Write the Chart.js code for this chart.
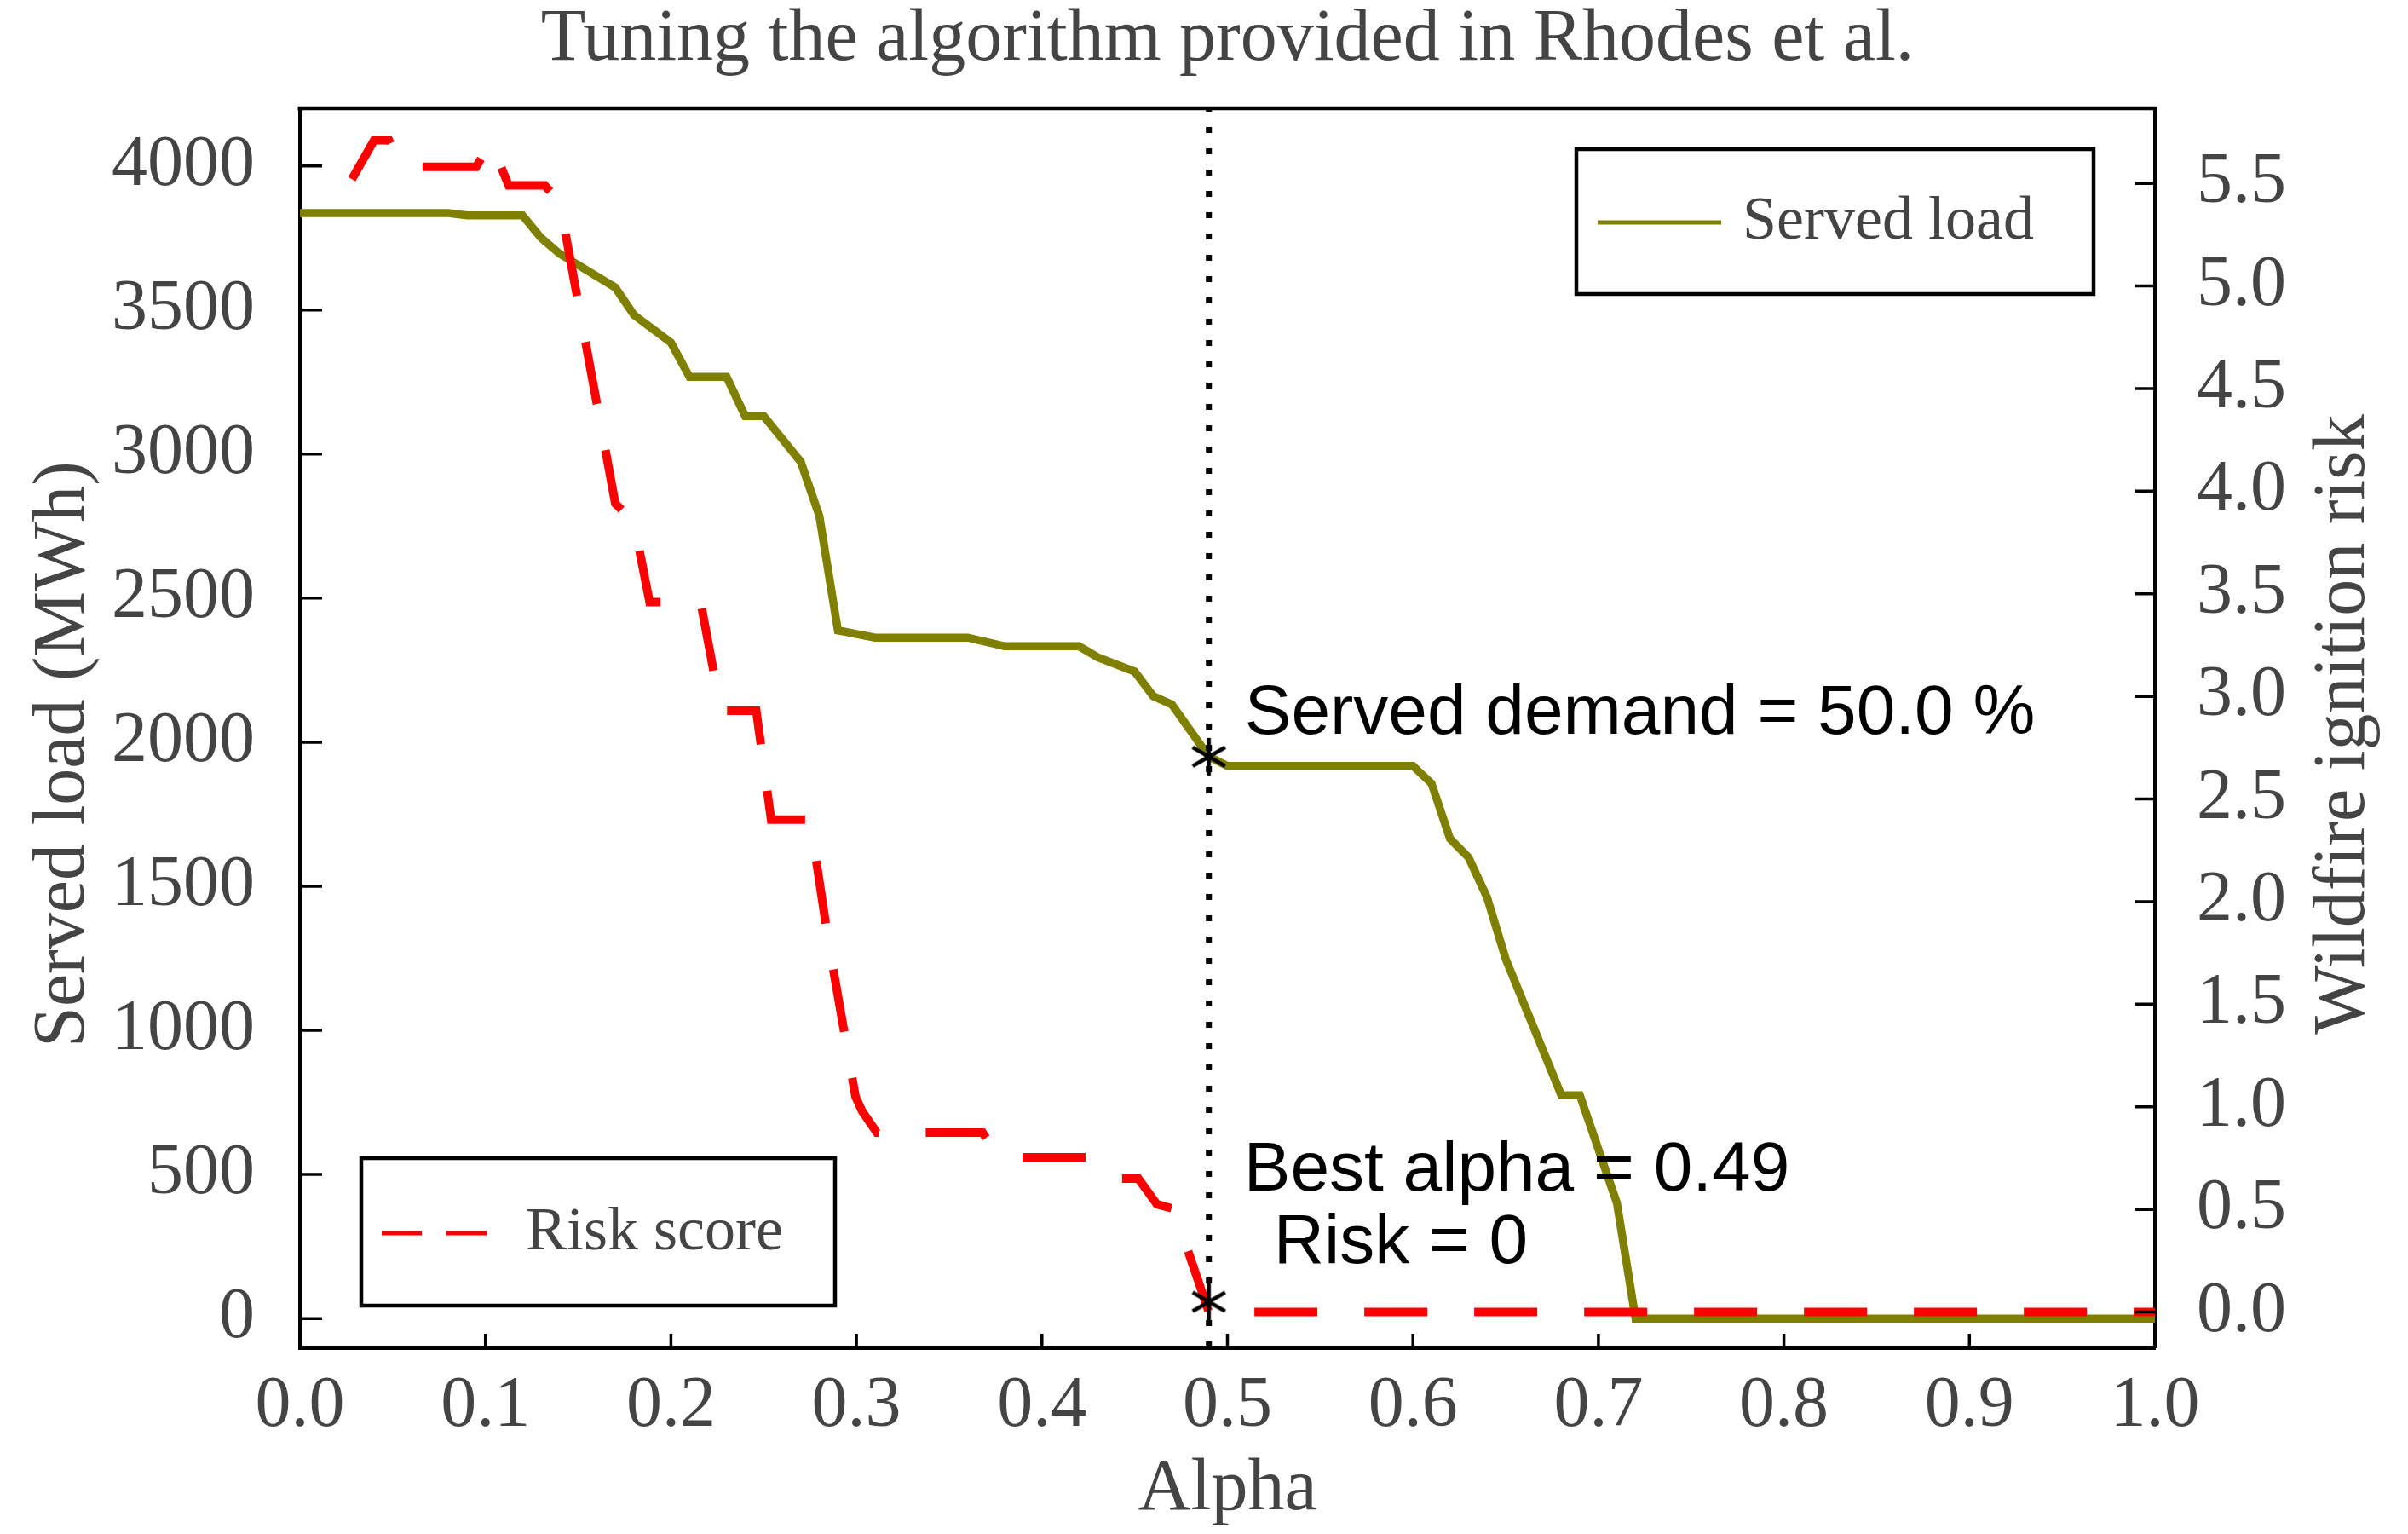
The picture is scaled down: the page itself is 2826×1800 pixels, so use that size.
<!DOCTYPE html>
<html>
<head>
<meta charset="utf-8">
<script src="https://cdn.jsdelivr.net/npm/chart.js@4.4.1/dist/chart.umd.min.js"></script>
<style>
  html, body { margin: 0; padding: 0; background: #fff; }
  #wrap { width: 2826px; height: 1800px; }
</style>
</head>
<body>
<div id="wrap"><canvas id="chart" width="2826" height="1800"></canvas></div>
<script>
// values
const alphaServed = [0, 0.08, 0.09, 0.12, 0.13, 0.14, 0.17, 0.18, 0.20, 0.21, 0.23, 0.24, 0.25, 0.27, 0.28, 0.29,
  0.31, 0.36, 0.38, 0.42, 0.43, 0.45, 0.46, 0.47, 0.49, 0.50, 0.60, 0.61, 0.62, 0.63, 0.64, 0.65, 0.68, 0.69,
  0.71, 0.72, 1.00];
const servedLoad = [3836, 3836, 3828, 3828, 3750, 3695, 3578, 3483, 3387, 3268, 3268, 3132, 3132, 2973, 2785, 2388,
  2363, 2363, 2333, 2333, 2295, 2245, 2160, 2131, 1950, 1918, 1918, 1857, 1665, 1600, 1461, 1248, 775, 775,
  400, 0, 0];

const alphaRisk = [0.028, 0.04, 0.048, 0.055, 0.095, 0.103, 0.1125, 0.132, 0.14, 0.17, 0.18, 0.1885, 0.216, 0.227,
  0.246, 0.254, 0.275, 0.285, 0.2995, 0.303, 0.311, 0.368, 0.377, 0.424, 0.433, 0.452, 0.462, 0.471, 0.49, 1.0];
const riskScore = [5.52, 5.71, 5.71, 5.58, 5.58, 5.70, 5.49, 5.49, 5.41, 3.94, 3.85, 3.46, 3.46, 2.93,
  2.93, 2.40, 2.40, 1.80, 1.05, 0.98, 0.874, 0.874, 0.754, 0.754, 0.65, 0.65, 0.525, 0.503, 0.0, 0.0];

const bestAlpha = 0.49;
const bestServed = 1950;
const bestRisk = 0.05;

const alphaTicks = [0, 0.1, 0.2, 0.3, 0.4, 0.5, 0.6, 0.7, 0.8, 0.9, 1.0];
const loadTicks = [0, 500, 1000, 1500, 2000, 2500, 3000, 3500, 4000];
const riskTicks = [0, 0.5, 1.0, 1.5, 2.0, 2.5, 3.0, 3.5, 4.0, 4.5, 5.0, 5.5];

const TEXT = '#444444';
const OLIVE = '#808000';
const RED = '#ff0000';
const SERIF = '"Liberation Serif", "Times New Roman", serif';
const SANS = '"Liberation Sans", Arial, sans-serif';

const toPoints = (xs, ys) => xs.map((x, i) => ({ x, y: ys[i] }));

// six spoke asterisk, like the marker in the original
function asterisk(size, lw) {
  const c = document.createElement('canvas');
  c.width = c.height = size;
  const g = c.getContext('2d');
  const r = size / 2 - 2;
  g.strokeStyle = '#000';
  g.lineWidth = lw;
  g.translate(size / 2, size / 2);
  for (const a of [90, 30, -30]) {
    const t = a * Math.PI / 180;
    g.beginPath();
    g.moveTo(-r * Math.cos(t), -r * Math.sin(t));
    g.lineTo(r * Math.cos(t), r * Math.sin(t));
    g.stroke();
  }
  return c;
}
const star = asterisk(48, 4.5);

// frame, inward ticks, titles, the two legends and the notes
const decor = {
  id: 'decor',
  afterDraw(chart) {
    const { ctx, chartArea: a, scales } = chart;
    ctx.save();
    ctx.strokeStyle = '#000';
    ctx.lineWidth = 4.5;
    ctx.beginPath();
    ctx.moveTo(a.left - 2.5, a.top);
    ctx.lineTo(a.right + 2.5, a.top);
    ctx.stroke();

    ctx.lineWidth = 3.5;
    ctx.beginPath();
    loadTicks.forEach(v => {
      const y = scales.y.getPixelForValue(v);
      ctx.moveTo(a.left, y); ctx.lineTo(a.left + 26, y);
    });
    riskTicks.forEach(v => {
      const y = scales.y1.getPixelForValue(v);
      ctx.moveTo(a.right - 23, y); ctx.lineTo(a.right, y);
    });
    alphaTicks.forEach(v => {
      const x = scales.x.getPixelForValue(v);
      ctx.moveTo(x, a.bottom); ctx.lineTo(x, a.bottom - 16);
    });
    ctx.stroke();

    // title and y titles
    ctx.fillStyle = TEXT;
    ctx.textAlign = 'center';
    ctx.textBaseline = 'alphabetic';
    ctx.font = '86px ' + SERIF;
    ctx.fillText('Tuning the algorithm provided in Rhodes et al.', (a.left + a.right) / 2, 70);

    ctx.save();
    ctx.translate(98, 885);
    ctx.rotate(-Math.PI / 2);
    ctx.fillText('Served load (MWh)', 0, 0);
    ctx.restore();

    ctx.save();
    ctx.translate(2774, 850);
    ctx.rotate(-Math.PI / 2);
    ctx.fillText('Wildfire ignition risk', 0, 0);
    ctx.restore();

    // legend: served load
    ctx.fillStyle = '#fff';
    ctx.fillRect(1850, 175, 607, 170);
    ctx.lineWidth = 4.5;
    ctx.strokeStyle = '#000';
    ctx.strokeRect(1850, 175, 607, 170);
    ctx.strokeStyle = OLIVE;
    ctx.lineWidth = 5;
    ctx.beginPath();
    ctx.moveTo(1875, 261); ctx.lineTo(2020, 261);
    ctx.stroke();
    ctx.fillStyle = TEXT;
    ctx.font = '72px ' + SERIF;
    ctx.textAlign = 'left';
    ctx.textBaseline = 'middle';
    ctx.fillText('Served load', 2045, 261);

    // legend: risk score
    ctx.fillStyle = '#fff';
    ctx.fillRect(424, 1359, 556, 173);
    ctx.lineWidth = 4.5;
    ctx.strokeStyle = '#000';
    ctx.strokeRect(424, 1359, 556, 173);
    ctx.strokeStyle = RED;
    ctx.lineWidth = 5;
    ctx.setLineDash([47, 29]);
    ctx.beginPath();
    ctx.moveTo(448, 1447); ctx.lineTo(572, 1447);
    ctx.stroke();
    ctx.setLineDash([]);
    ctx.fillStyle = TEXT;
    ctx.fillText('Risk score', 617, 1447);

    // notes next to the best alpha
    const nx = scales.x.getPixelForValue(bestAlpha);
    ctx.fillStyle = '#000';
    ctx.font = '82px ' + SANS;
    ctx.textBaseline = 'alphabetic';
    ctx.fillText('Served demand = 50.0 %', nx + 42, 861);
    ctx.fillText('Best alpha = 0.49', nx + 41, 1397);
    ctx.fillText('Risk = 0', nx + 76, 1482);
    ctx.restore();
  }
};

new Chart(document.getElementById('chart'), {
  type: 'line',
  data: {
    datasets: [
      {
        label: 'Best served',
        data: [{ x: bestAlpha, y: bestServed }],
        yAxisID: 'y',
        showLine: false,
        pointStyle: star,
        pointRadius: 22
      },
      {
        label: 'Best risk',
        data: [{ x: bestAlpha, y: bestRisk }],
        yAxisID: 'y1',
        showLine: false,
        pointStyle: star,
        pointRadius: 22
      },
      {
        label: 'Best alpha',
        data: [{ x: bestAlpha, y: -100 }, { x: bestAlpha, y: 4200 }],
        yAxisID: 'y',
        borderColor: '#000',
        borderWidth: 7,
        borderDash: [7, 18],
        pointRadius: 0
      },
      {
        label: 'Risk score',
        data: toPoints(alphaRisk, riskScore),
        yAxisID: 'y1',
        borderColor: RED,
        borderWidth: 10,
        borderDash: [74, 55],
        pointRadius: 0
      },
      {
        label: 'Served load',
        data: toPoints(alphaServed, servedLoad),
        yAxisID: 'y',
        borderColor: OLIVE,
        borderWidth: 9.5,
        pointRadius: 0
      }
    ]
  },
  options: {
    responsive: false,
    devicePixelRatio: 1,
    animation: false,
    layout: { padding: { top: 127, left: 0, right: 0, bottom: 0 } },
    plugins: { legend: { display: false }, tooltip: { enabled: false } },
    scales: {
      x: {
        type: 'linear',
        min: 0,
        max: 1,
        afterBuildTicks: s => { s.ticks = alphaTicks.map(value => ({ value })); },
        afterFit: s => { s.height = 219; },
        grid: { display: false },
        border: { display: true, color: '#000', width: 5 },
        ticks: {
          color: TEXT, font: { family: SERIF, size: 84 }, padding: 12,
          maxRotation: 0, autoSkip: false, callback: v => v.toFixed(1)
        },
        title: {
          display: true, text: 'Alpha', color: TEXT,
          font: { family: SERIF, size: 86 }, padding: { top: 0, bottom: 0 }
        }
      },
      y: {
        type: 'linear',
        position: 'left',
        min: -100,
        max: 4200,
        afterBuildTicks: s => { s.ticks = loadTicks.map(value => ({ value })); },
        afterFit: s => { s.width = 352; },
        grid: { display: false },
        border: { display: true, color: '#000', width: 5 },
        ticks: {
          color: TEXT, font: { family: SERIF, size: 84 }, padding: 45,
          callback: v => String(v)
        }
      },
      y1: {
        type: 'linear',
        position: 'right',
        min: -0.172,
        max: 5.866,
        afterBuildTicks: s => { s.ticks = riskTicks.map(value => ({ value })); },
        afterFit: s => { s.width = 297; },
        grid: { display: false },
        border: { display: true, color: '#000', width: 5 },
        ticks: {
          color: TEXT, font: { family: SERIF, size: 84 }, padding: 41,
          callback: v => v.toFixed(1)
        }
      }
    }
  },
  plugins: [decor]
});
</script>
</body>
</html>
